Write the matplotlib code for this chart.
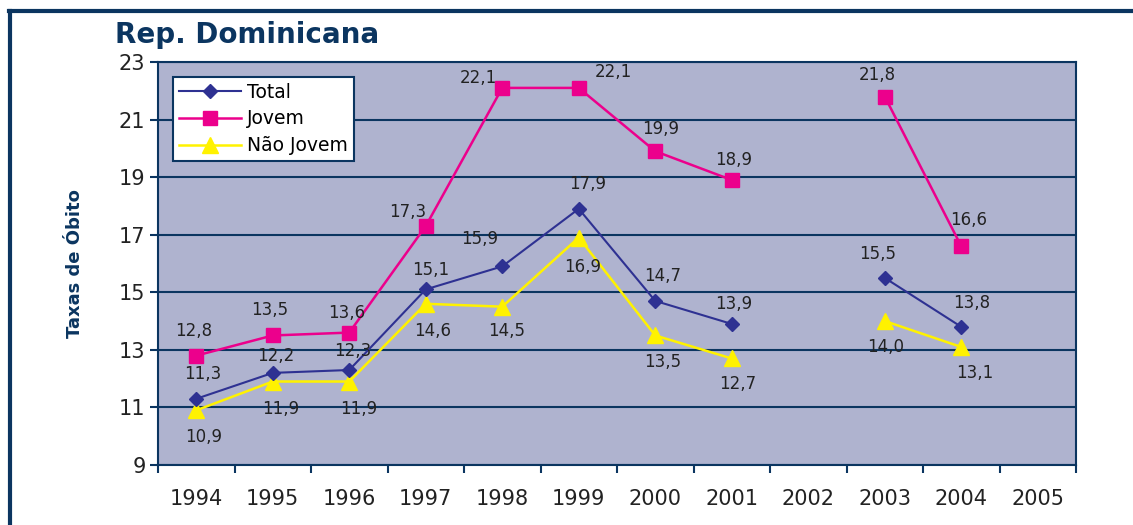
import matplotlib.pyplot as plt
import numpy as np
from matplotlib.lines import Line2D

years = ['1994', '1995', '1996', '1997', '1998', '1999', '2000', '2001', '2002', '2003', '2004', '2005']
total = [11.3, 12.2, 12.3, 15.1, 15.9, 17.9, 14.7, 13.9, np.nan, 15.5, 13.8, np.nan]
jovem = [12.8, 13.5, 13.6, 17.3, 22.1, 22.1, 19.9, 18.9, np.nan, 21.8, 16.6, np.nan]
nao_jovem = [10.9, 11.9, 11.9, 14.6, 14.5, 16.9, 13.5, 12.7, np.nan, 14.0, 13.1, np.nan]

navy = '#0B3560'
c_total = '#2E3192'
c_jovem = '#EC008C'
c_nj = '#FFF200'

plt.rcParams['font.family'] = ['DejaVu Sans']

fig = plt.figure(figsize=(11.33, 5.25), dpi=100)
ax = fig.add_axes([158/1133, 60/525, 918/1133, 403/525])
ax.set_facecolor('#AFB3CF')

x = np.arange(len(years))
ax.plot(x, total, color=c_total, lw=1.5, marker='D', ms=7, label='Total', zorder=5)
ax.plot(x, jovem, color=c_jovem, lw=1.8, marker='s', ms=10, label='Jovem', zorder=4)
ax.plot(x, nao_jovem, color=c_nj, lw=1.8, marker='^', ms=11, label='Não Jovem', zorder=3)

# label offsets in pixels (dx, dy)
off_j = [(-3, 25), (-3, 25), (-3, 20), (-18, 14), (-24, 10), (35, 16), (5, 22), (2, 20), None, (-7, 22), (7, 26)]
off_t = [(7, 25), (3, 17), (4, 19), (5, 19), (-23, 27), (9, 25), (7, 25), (2, 20), None, (-7, 24), (10, 24)]
off_n = [(7, -27), (8, -27), (9, -27), (7, -27), (4, -24), (4, -29), (7, -27), (6, -26), None, (1, -26), (13, -26)]

def fmt(v):
    return ('%.1f' % v).replace('.', ',')

for series, offs in ((jovem, off_j), (total, off_t), (nao_jovem, off_n)):
    for i, v in enumerate(series):
        if np.isnan(v):
            continue
        dx, dy = offs[i]
        ax.annotate(fmt(v), (x[i], v), xytext=(dx, dy), textcoords='offset pixels',
                    ha='center', va='center', fontsize=12, color='#222222', zorder=6)

ax.set_xlim(-0.5, 11.5)
ax.set_ylim(9, 23)
ax.set_yticks(range(9, 24, 2))
ax.set_xticks(np.arange(-0.5, 12, 1))
ax.set_xticklabels([])
ax.set_xticks(x, minor=True)
ax.set_xticklabels(years, minor=True, fontsize=15, color='#222222')
ax.tick_params(axis='x', which='minor', length=0, pad=17)
ax.tick_params(axis='x', which='major', direction='out', length=6, width=1.5, color=navy)
ax.tick_params(axis='y', direction='out', length=6, width=1.5, color=navy, labelsize=15, labelcolor='#222222', pad=3)
ax.grid(axis='y', color=navy, lw=1.5)
ax.set_axisbelow(True)
for s in ax.spines.values():
    s.set_color(navy)
    s.set_linewidth(1.5)

ax.set_ylabel('Taxas de Óbito', fontsize=13, fontweight='bold', color=navy, labelpad=25)

leg = ax.legend(loc='upper left', bbox_to_anchor=(15/918, (465-77)/403), borderaxespad=0,
                fontsize=13.5, frameon=True, fancybox=False, framealpha=1, edgecolor=navy,
                handlelength=3.3, borderpad=0.3, labelspacing=0.42, handletextpad=0.35)
leg.get_frame().set_linewidth(1.5)

fig.text(115/1133, 1 - 35/525, 'Rep. Dominicana', fontsize=20, fontweight='bold', color=navy,
         ha='left', va='center')

# outer frame
fig.add_artist(Line2D([10/1133, 10/1133], [0, 1 - 11/525], color=navy, lw=3, transform=fig.transFigure))
fig.add_artist(Line2D([9/1133, 1], [1 - 11/525, 1 - 11/525], color=navy, lw=3, transform=fig.transFigure))

fig.savefig('out.png', dpi=100)
